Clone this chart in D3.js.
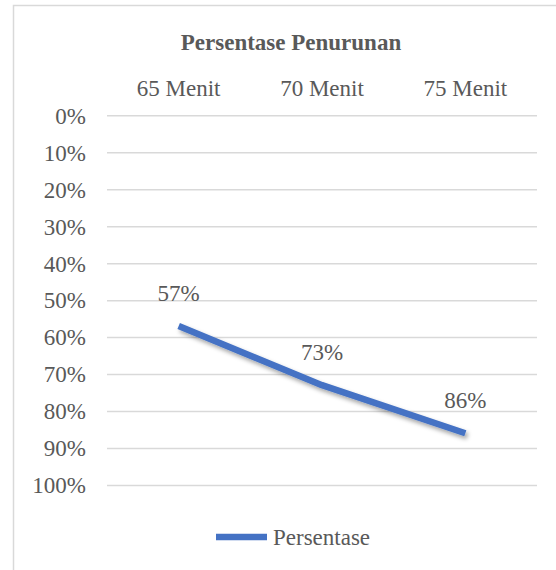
<!DOCTYPE html>
<html>
<head>
<meta charset="utf-8">
<script src="https://cdn.jsdelivr.net/npm/d3@7"></script>
<style>
  html, body { margin: 0; padding: 0; background: #fff; }
  svg { display: block; }
</style>
</head>
<body>
<svg id="chart" width="556" height="570"></svg>
<script>
const title = "Persentase Penurunan";
const categories = ["65 Menit", "70 Menit", "75 Menit"];
const seriesName = "Persentase";
const values = [0.57, 0.73, 0.86];
const yTicks = [0, 0.1, 0.2, 0.3, 0.4, 0.5, 0.6, 0.7, 0.8, 0.9, 1.0];

const FONT = "'Liberation Serif', 'Times New Roman', serif";
const TXT = "#595959";

const svg = d3.select("#chart");
const W = 556, H = 570;

// Outer chart border
svg.append("rect")
  .attr("x", 13.5).attr("y", 5.5)
  .attr("width", W + 20).attr("height", H + 20)
  .attr("fill", "none").attr("stroke", "#d9d9d9").attr("stroke-width", 1.5);

const plot = { left: 107, right: 537, top: 115.3, bottom: 485 };

const x = d3.scaleBand().domain(categories).range([plot.left, plot.right]);
const y = d3.scaleLinear().domain([0, 1]).range([plot.top, plot.bottom]);

// Shadow filter
const defs = svg.append("defs");
const f = defs.append("filter").attr("id", "shadow")
  .attr("x", "-20%").attr("y", "-20%").attr("width", "140%").attr("height", "140%");
f.append("feDropShadow").attr("dx", 2).attr("dy", 3).attr("stdDeviation", 2.2)
  .attr("flood-color", "#000").attr("flood-opacity", 0.35);

function styleText(sel) {
  return sel.style("font-family", FONT).style("font-size", "23px").attr("fill", TXT);
}

// Title
styleText(svg.append("text"))
  .attr("x", 291).attr("y", 50)
  .attr("text-anchor", "middle")
  .style("font-weight", "bold")
  .text(title);

// Gridlines + y labels
const yAxis = d3.axisLeft(y).tickValues(yTicks)
  .tickFormat(d3.format(".0%"))
  .tickSize(-(plot.right - plot.left)).tickPadding(21);
const gy = svg.append("g").attr("transform", `translate(${plot.left},0)`).call(yAxis);
gy.select(".domain").remove();
gy.attr("font-family", null).attr("font-size", null);
gy.selectAll(".tick line").attr("stroke", "#d9d9d9").attr("stroke-width", 1.5);
styleText(gy.selectAll(".tick text")).attr("dy", "0.34em");

// Category axis at top
const xAxis = d3.axisTop(x).tickSize(0).tickPadding(0);
const gx = svg.append("g").attr("transform", `translate(0,${plot.top - 19})`).call(xAxis);
gx.select(".domain").remove();
gx.attr("font-family", null).attr("font-size", null);
styleText(gx.selectAll(".tick text")).attr("dy", 0);

// Line
const pts = categories.map((c, i) => [x(c) + x.bandwidth() / 2, y(values[i])]);
const line = d3.line();
svg.append("path")
  .attr("d", line(pts))
  .attr("fill", "none")
  .attr("stroke", "#4472C4")
  .attr("stroke-width", 6.5)
  .attr("stroke-linejoin", "round")
  .attr("stroke-linecap", "butt")
  .attr("filter", "url(#shadow)");

// Data labels
styleText(svg.append("g").selectAll("text").data(values).join("text"))
  .attr("x", (d, i) => x(categories[i]) + x.bandwidth() / 2)
  .attr("y", d => y(d) - 25)
  .attr("text-anchor", "middle")
  .text(d => d3.format(".0%")(d));

// Legend
const lg = svg.append("g");
lg.append("line")
  .attr("x1", 216).attr("x2", 267).attr("y1", 537).attr("y2", 537)
  .attr("stroke", "#4472C4").attr("stroke-width", 6.5);
styleText(lg.append("text"))
  .attr("x", 273).attr("y", 545)
  .text(seriesName);
</script>
</body>
</html>
